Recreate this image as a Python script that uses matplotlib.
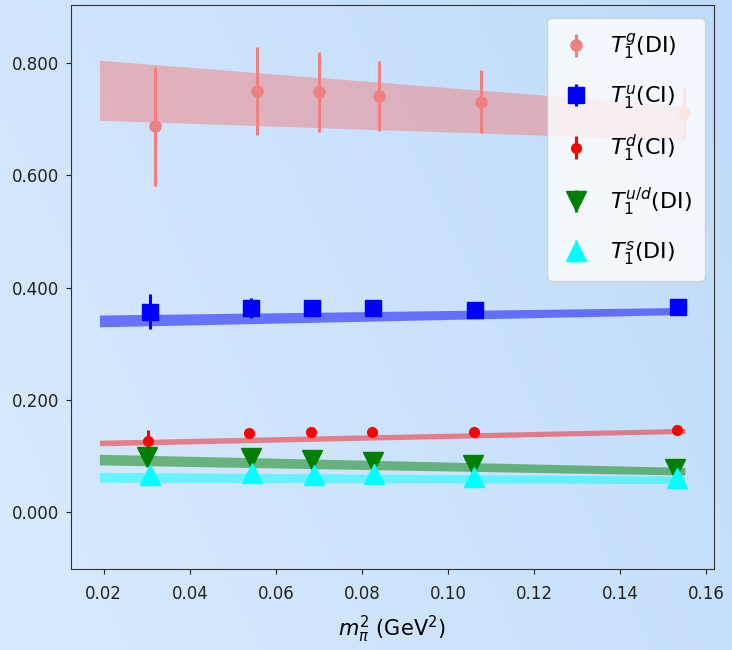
import matplotlib
matplotlib.use("Agg")
import matplotlib.pyplot as plt
import numpy as np
from matplotlib.colors import LinearSegmentedColormap

# pion mass squared (GeV^2) for each ensemble, small offsets per series
x_g = [0.0318, 0.0557, 0.0701, 0.0840, 0.1076, 0.1547]
x_u = [0.0307, 0.0543, 0.0684, 0.0826, 0.1062, 0.1533]
x_d = [0.0302, 0.0538, 0.0682, 0.0824, 0.1060, 0.1531]
x_ud = [0.0300, 0.0542, 0.0684, 0.0825, 0.1059, 0.1527]
x_s = [0.0308, 0.0545, 0.0689, 0.0829, 0.1061, 0.1532]

# data points
g_val = [0.687, 0.750, 0.748, 0.741, 0.731, 0.711]
g_err = [0.106, 0.078, 0.071, 0.062, 0.056, 0.046]
u_val = [0.357, 0.363, 0.363, 0.363, 0.360, 0.366]
u_err = [0.031, 0.018, 0.010, 0.004, 0.004, 0.004]
d_val = [0.126, 0.140, 0.142, 0.142, 0.142, 0.147]
d_err = [0.020, 0.004, 0.004, 0.004, 0.003, 0.003]
ud_val = [0.098, 0.097, 0.093, 0.090, 0.084, 0.077]
ud_err = [0.003, 0.003, 0.003, 0.003, 0.003, 0.003]
s_val = [0.066, 0.069, 0.066, 0.068, 0.063, 0.060]
s_err = [0.002, 0.002, 0.002, 0.002, 0.002, 0.002]

# chiral fit bands (lower / upper edge at the two ends)
band_x = [0.019, 0.155]
g_lo, g_hi = [0.698, 0.663], [0.805, 0.723]
u_lo, u_hi = [0.330, 0.352], [0.351, 0.3645]
d_lo, d_hi = [0.118, 0.140], [0.128, 0.149]
ud_lo, ud_hi = [0.084, 0.066], [0.103, 0.0796]
s_lo, s_hi = [0.053, 0.051], [0.0707, 0.064]

fig = plt.figure(figsize=(7.32, 6.5), dpi=100)

# soft blue gradient background
bg = fig.add_axes([0, 0, 1, 1], zorder=-10)
cmap = LinearSegmentedColormap.from_list("bgblue", ["#d8eafd", "#c0dcfa"])
xx, yy = np.meshgrid(np.linspace(0, 1, 200), np.linspace(0, 1, 200))
bg.imshow(0.7 * xx + 0.3 * yy, cmap=cmap, aspect="auto", extent=[0, 1, 0, 1], origin="lower")
bg.axis("off")

ax = fig.add_axes([0.097, 0.125, 0.878, 0.867])
ax.set_facecolor("none")

ax.fill_between(band_x, g_lo, g_hi, color="lightcoral", alpha=0.5, lw=0)
ax.fill_between(band_x, u_lo, u_hi, color="blue", alpha=0.5, lw=0)
ax.fill_between(band_x, d_lo, d_hi, color="red", alpha=0.45, lw=0)
ax.fill_between(band_x, ud_lo, ud_hi, color="green", alpha=0.5, lw=0)
ax.fill_between(band_x, s_lo, s_hi, color="cyan", alpha=0.5, lw=0)

ax.errorbar(x_g, g_val, yerr=g_err, fmt="o", color="lightcoral", ms=8, elinewidth=2.2, label=r"$T_1^g$(DI)")
ax.errorbar(x_u, u_val, yerr=u_err, fmt="s", color="blue", ms=11, elinewidth=2.2, label=r"$T_1^u$(CI)")
ax.errorbar(x_d, d_val, yerr=d_err, fmt="o", color="red", ms=7, elinewidth=2.2, label=r"$T_1^d$(CI)")
ax.errorbar(x_ud, ud_val, yerr=ud_err, fmt="v", color="green", ms=14, elinewidth=2.2, label=r"$T_1^{u/d}$(DI)")
ax.errorbar(x_s, s_val, yerr=s_err, fmt="^", color="cyan", ms=14, elinewidth=2.2, label=r"$T_1^s$(DI)")

ax.set_xlim(0.0124, 0.1617)
ax.set_ylim(-0.101, 0.903)
ax.set_xticks([0.02, 0.04, 0.06, 0.08, 0.10, 0.12, 0.14, 0.16])
ax.set_yticks([0.0, 0.2, 0.4, 0.6, 0.8])
ax.set_yticklabels(["0.000", "0.200", "0.400", "0.600", "0.800"])
ax.tick_params(labelsize=12, colors="#222222", pad=5)
ax.tick_params(axis="x", pad=8)
ax.set_xlabel(r"$m_\pi^2$ (GeV$^2$)", fontsize=15, labelpad=8)
for sp in ax.spines.values():
    sp.set_color("#333333")

leg = ax.legend(loc="upper right", fontsize=16, labelspacing=0.97, handlelength=1.4,
                handletextpad=0.8, borderpad=0.6, borderaxespad=0, framealpha=0.8,
                bbox_to_anchor=(0.986, 0.977))

fig.savefig("out.png", dpi=100)
